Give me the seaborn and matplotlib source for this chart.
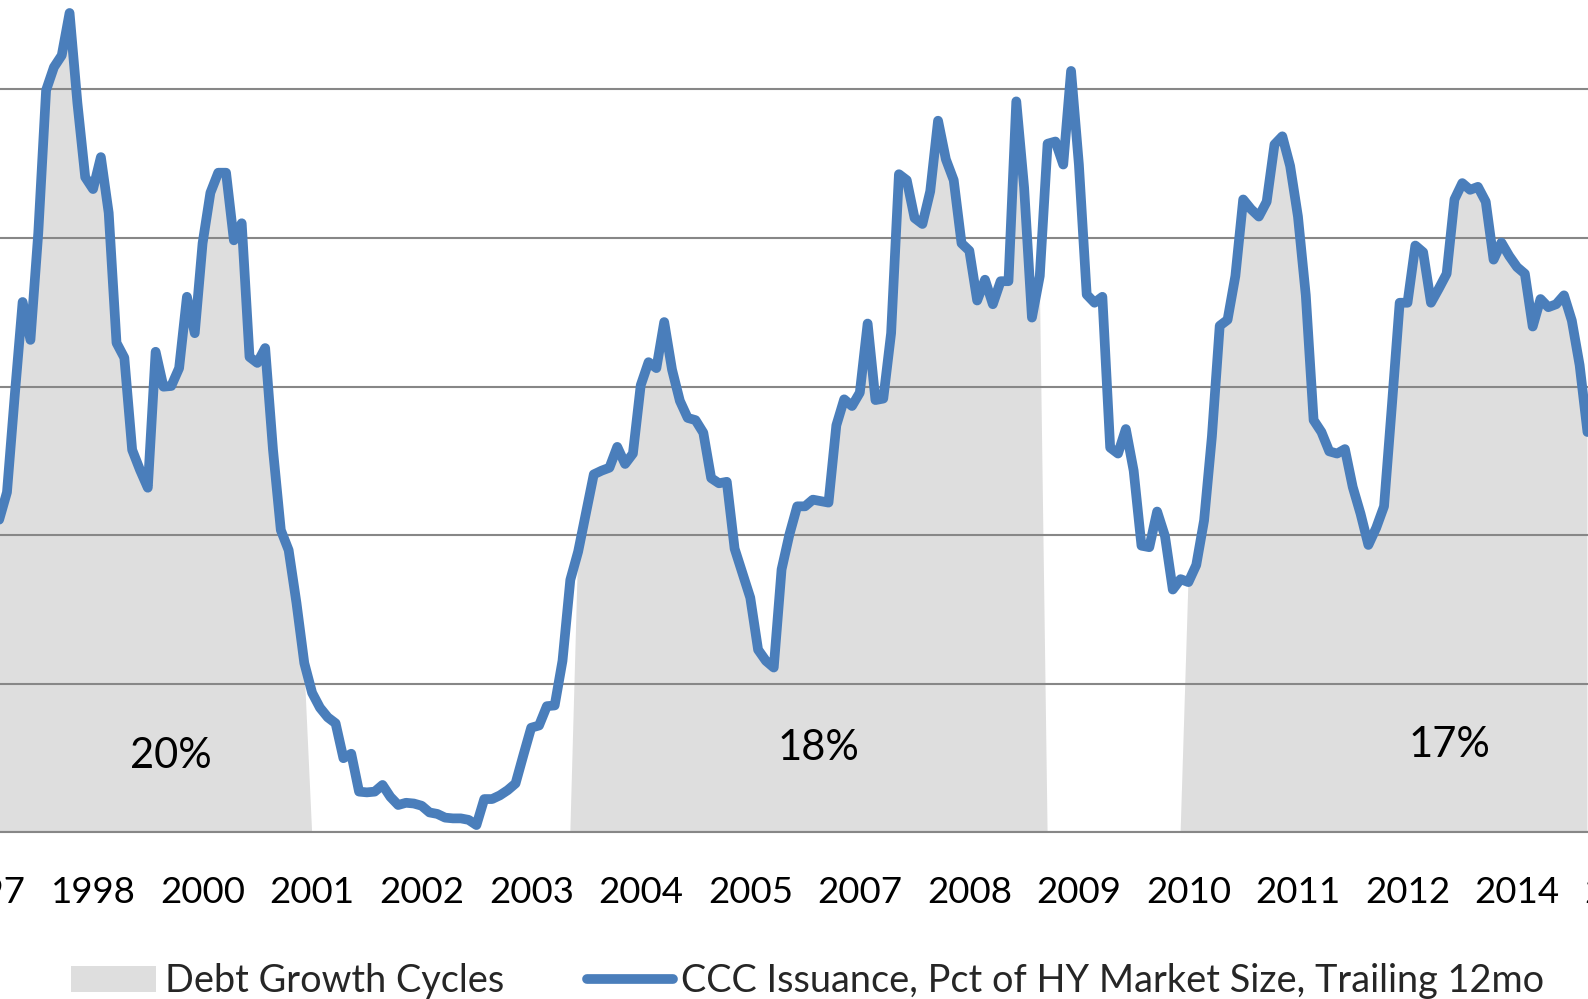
import numpy as np
import pandas as pd
import matplotlib
matplotlib.use("Agg")
import matplotlib.pyplot as plt
import seaborn as sns
from matplotlib.patches import Patch
from matplotlib.lines import Line2D

# monthly category index; index 0 is the "1997" label month, data begins two months later
first_month = 2
ccc_pct = [
    4.21, 4.58, 5.89, 7.14, 6.63, 8.07, 9.99, 10.30, 10.46, 11.03,
    9.82, 8.82, 8.66, 9.09, 8.34, 6.59, 6.39, 5.15, 4.88, 4.64,
    6.47, 6.00, 6.01, 6.25, 7.21, 6.72, 7.93, 8.61, 8.88, 8.88,
    7.97, 8.20, 6.40, 6.32, 6.52, 5.15, 4.07, 3.80, 3.09, 2.28,
    1.88, 1.68, 1.55, 1.47, 1.00, 1.06, 0.55, 0.54, 0.55, 0.64,
    0.48, 0.37, 0.40, 0.39, 0.36, 0.27, 0.25, 0.20, 0.19, 0.19,
    0.17, 0.10, 0.45, 0.45, 0.50, 0.57, 0.66, 1.04, 1.41, 1.44,
    1.70, 1.71, 2.31, 3.40, 3.78, 4.30, 4.82, 4.87, 4.91, 5.19,
    4.96, 5.10, 6.02, 6.33, 6.25, 6.87, 6.23, 5.81, 5.58, 5.55,
    5.38, 4.77, 4.70, 4.72, 3.82, 3.49, 3.16, 2.46, 2.31, 2.22,
    3.54, 4.01, 4.39, 4.39, 4.48, 4.46, 4.44, 5.48, 5.83, 5.74,
    5.92, 6.85, 5.82, 5.84, 6.72, 8.86, 8.78, 8.27, 8.19, 8.63,
    9.58, 9.06, 8.78, 7.93, 7.83, 7.16, 7.44, 7.11, 7.42, 7.42,
    9.84, 8.68, 6.93, 7.49, 9.27, 9.30, 8.99, 10.25, 8.99, 7.24,
    7.13, 7.21, 5.18, 5.10, 5.43, 4.87, 3.86, 3.84, 4.32, 3.99,
    3.27, 3.41, 3.37, 3.60, 4.20, 5.33, 6.82, 6.90, 7.49, 8.52,
    8.39, 8.29, 8.49, 9.26, 9.37, 8.97, 8.29, 7.23, 5.55, 5.39,
    5.13, 5.10, 5.16, 4.65, 4.29, 3.87, 4.10, 4.39, 5.74, 7.13,
    7.13, 7.90, 7.81, 7.13, 7.32, 7.52, 8.52, 8.74, 8.65, 8.69,
    8.49, 7.71, 7.94, 7.76, 7.61, 7.52, 6.81, 7.18, 7.07, 7.11,
    7.23, 6.89, 6.29, 5.39,
]
cycle_start = [2, 76, 154]
cycle_end = [41, 135, 205]
cycle_growth = ["20%", "18%", "17%"]
tick_months = list(range(0, 211, 14))
tick_labels = ["1997", "1998", "2000", "2001", "2002", "2003", "2004", "2005",
               "2007", "2008", "2009", "2010", "2011", "2012", "2014", "2015"]

df = pd.DataFrame({"month": np.arange(first_month, first_month + len(ccc_pct)),
                   "ccc": ccc_pct})
in_cycle = np.zeros(len(df), dtype=bool)
for a, b in zip(cycle_start, cycle_end):
    in_cycle |= ((df.month >= a) & (df.month <= b)).values
df["cycle_area"] = np.where(in_cycle, df.ccc, 0.0)

sns.set_style("white")
plt.rcParams["font.family"] = ["Lato", "DejaVu Sans"]

blue = "#4a7ebb"
fill = "#dedede"
grey = "#878787"
line_w = 7

fig = plt.figure(figsize=(15.88, 9.99), dpi=100)
# axes run past the figure edges, the source picture is a crop
ax = fig.add_axes([-0.02517, 0.16667, 1.05932, 0.83299])

ax.fill_between(df.month, 0, df.cycle_area, color=fill, lw=0, zorder=0.2)
sns.lineplot(data=df, x="month", y="ccc", color=blue, lw=line_w, ax=ax, zorder=3,
             solid_joinstyle="round", solid_capstyle="round")

ax.set_xlim(-3, 212)
ax.set_ylim(0, 11.2)
ax.set_yticks([0, 2, 4, 6, 8, 10])
ax.yaxis.grid(True, color=grey, lw=1.5)
ax.set_axisbelow(True)
ax.tick_params(axis="y", length=0, labelleft=False)

ax.set_xticks(tick_months, tick_labels)
ax.set_xticks([m - 0.5 for m in tick_months], minor=True)
ax.tick_params(axis="x", which="major", length=0, pad=31, labelsize=26.4, labelcolor="black")
ax.tick_params(axis="x", which="minor", length=10, width=1.5, color=grey, direction="out")
ax.set_xlabel("")
ax.set_ylabel("")

for side in ["top", "right", "left"]:
    ax.spines[side].set_visible(False)
ax.spines["bottom"].set_color(grey)
ax.spines["bottom"].set_linewidth(1.5)
ax.spines["bottom"].set_zorder(2.5)

for x, y, s in zip([24, 106.7, 187.4], [1.03, 1.14, 1.18], cycle_growth):
    ax.text(x, y, s, ha="center", va="center", fontsize=30, color="black", zorder=4)

handles = [Patch(facecolor=fill, edgecolor="none", label="Debt Growth Cycles"),
           Line2D([], [], color=blue, lw=line_w, solid_capstyle="round",
                  label="CCC Issuance, Pct of HY Market Size, Trailing 12mo")]
fig.legend(handles=handles, loc="center left", bbox_to_anchor=(71 / 1588, 1 - 981 / 999),
           ncol=2, frameon=False, fontsize=27.3, handlelength=2.25, handleheight=0.68,
           handletextpad=0.22, columnspacing=2.2, borderpad=0, borderaxespad=0)

fig.savefig("out.png", dpi=100)
